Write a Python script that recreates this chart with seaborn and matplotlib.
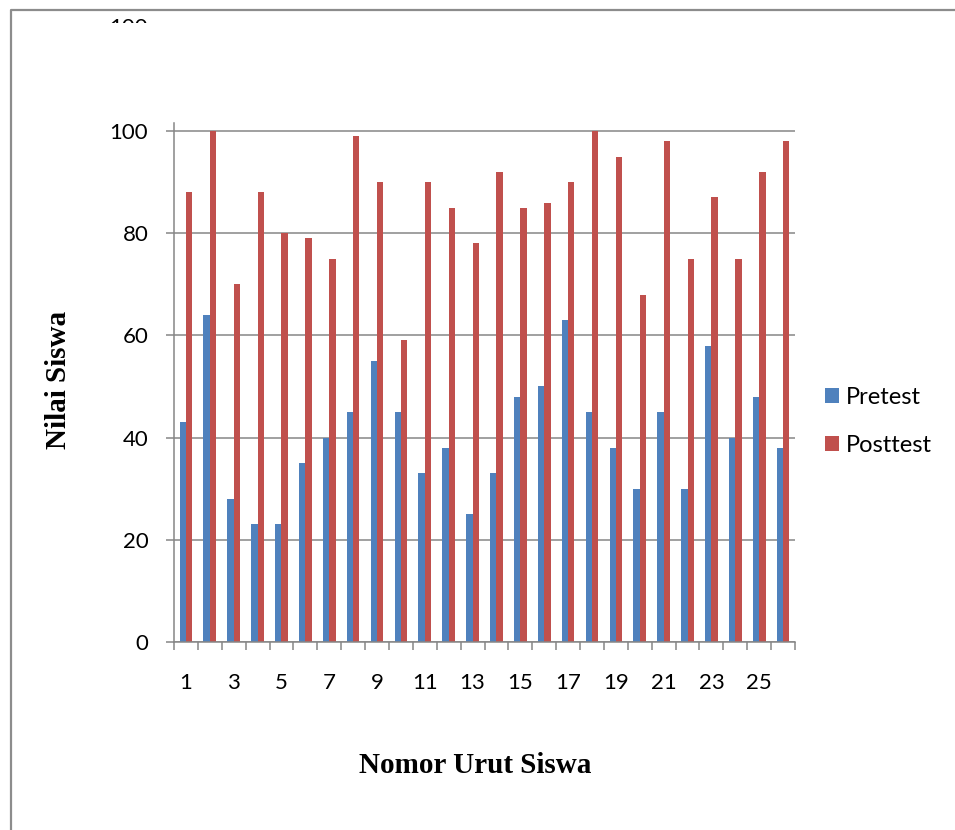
import matplotlib
matplotlib.use("Agg")
import matplotlib.pyplot as plt
import numpy as np
import pandas as pd
import seaborn as sns
from matplotlib.lines import Line2D
from matplotlib.patches import Rectangle

# ---- data ----
students = list(range(1, 27))
pretest = [43, 64, 28, 23, 23, 35, 40, 45, 55, 45, 33, 38, 25,
           33, 48, 50, 63, 45, 38, 30, 45, 30, 58, 40, 48, 38]
posttest = [88, 100, 70, 88, 80, 79, 75, 99, 90, 59, 90, 85, 78,
            92, 85, 86, 90, 100, 95, 68, 98, 75, 87, 75, 92, 98]
series = ["Pretest", "Posttest"]
colors = ["#4F81BD", "#C0504D"]
y_ticks = [0, 20, 40, 60, 80, 100]
x_label_students = [1, 3, 5, 7, 9, 11, 13, 15, 17, 19, 21, 23, 25]

df = pd.DataFrame({
    "Siswa": students * 2,
    "Nilai": pretest + posttest,
    "Tes": [series[0]] * len(students) + [series[1]] * len(students),
})

sns.set_theme(style="white")
plt.rcParams["font.family"] = ["Lato", "DejaVu Sans"]
plt.rcParams["text.color"] = "black"
plt.rcParams["axes.labelcolor"] = "black"
plt.rcParams["xtick.color"] = "black"
plt.rcParams["ytick.color"] = "black"

W, H = 955, 830
fig = plt.figure(figsize=(W / 100, H / 100), dpi=100)
fig.patch.set_facecolor("white")

top_px = 122.8
ax = fig.add_axes([174 / W, 1 - 642 / H, (795 - 174) / W, (642 - top_px) / H])

sns.barplot(data=df, x="Siswa", y="Nilai", hue="Tes", hue_order=series,
            order=students, palette=colors, width=0.53, saturation=1,
            linewidth=0, errorbar=None, ax=ax)
if ax.get_legend() is not None:
    ax.get_legend().remove()

grey = "#868686"
ax.set_xlim(-0.5, len(students) - 0.5)
ax.set_ylim(0, 101.6)
ax.set_yticks(y_ticks)
ax.set_yticklabels([str(v) for v in y_ticks])
ax.yaxis.grid(True, color=grey, linewidth=1.1)
ax.xaxis.grid(False)
ax.set_axisbelow(True)

pos = [students.index(s) for s in x_label_students]
ax.set_xticks(pos)
ax.set_xticklabels([str(s) for s in x_label_students])
ax.set_xticks(np.arange(-0.5, len(students), 1.0), minor=True)
ax.tick_params(axis="x", which="major", length=0, pad=22, labelsize=16, labelcolor="black")
ax.tick_params(axis="x", which="minor", length=5.8, width=1.1, color=grey, direction="out", bottom=True)
ax.tick_params(axis="y", which="major", length=5.5, width=1.1, color=grey, direction="out",
               pad=13, labelsize=16, labelcolor="black", left=True)

for s in ["top", "right"]:
    ax.spines[s].set_visible(False)
for s in ["left", "bottom"]:
    ax.spines[s].set_color(grey)
    ax.spines[s].set_linewidth(1.1)

ax.set_xlabel("")
ax.set_ylabel("")

# axis titles
fig.text(475 / W, 1 - 773 / H, "Nomor Urut Siswa", ha="center", va="baseline", color="black",
         fontsize=21, fontweight="bold", family=["Liberation Serif", "DejaVu Serif"])
fig.text(66 / W, 1 - 380 / H, "Nilai Siswa", ha="center", va="baseline", color="black",
         rotation=90, rotation_mode="anchor",
         fontsize=21, fontweight="bold", family=["Liberation Serif", "DejaVu Serif"])

# legend
handles = [Rectangle((0, 0), 1, 1, facecolor=c, edgecolor="none") for c in colors]
leg = fig.legend(handles, series, loc="upper left", bbox_to_anchor=(825 / W, 1 - 387 / H),
                 frameon=False, borderpad=0, borderaxespad=0, handlelength=0.6,
                 handleheight=0.6, handletextpad=0.28, labelspacing=1.15, fontsize=17)
for t in leg.get_texts():
    t.set_color("black")

# outer frame (top and left edges visible)
fig.add_artist(Line2D([11 / W, 11 / W, 1.0], [0.0, 1 - 10 / H, 1 - 10 / H],
                      color="#8c8c8c", linewidth=1.6, transform=fig.transFigure))

# clipped remnant of a label at the top
fig.text(148 / W, 1 - 34 / H, "100", ha="right", va="baseline", fontsize=16, zorder=5, color="black")
fig.add_artist(Rectangle((95 / W, 1 - 60 / H), 70 / W, 37 / H, facecolor="white",
                         edgecolor="none", transform=fig.transFigure, zorder=10))

fig.savefig("out.png", dpi=100)
